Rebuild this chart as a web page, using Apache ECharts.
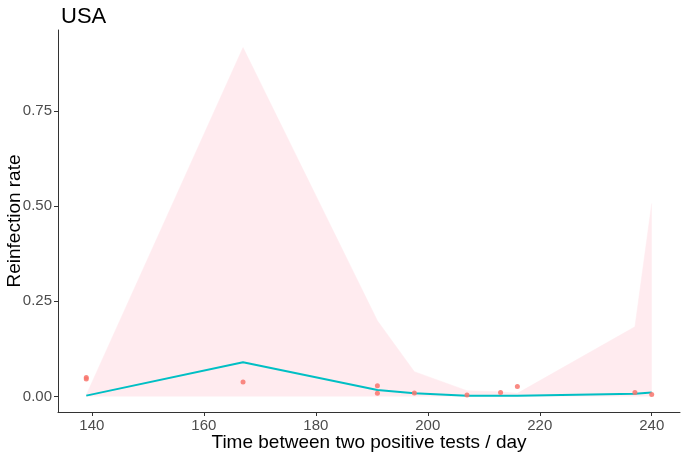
<!DOCTYPE html>
<html>
<head>
<meta charset="utf-8">
<script src="https://cdn.jsdelivr.net/npm/echarts@6/dist/echarts.min.js"></script>
<style>
html,body{margin:0;padding:0;background:#fff;}
#chart{width:685px;height:456px;}
</style>
</head>
<body>
<div id="chart"></div>
<script>
// Observed points (time between tests, reinfection rate)
const pointDays  = [139, 139, 167, 191, 191, 197.6, 207, 213, 216, 237, 240];
const pointRates = [0.050, 0.046, 0.038, 0.028, 0.008, 0.009, 0.004, 0.010, 0.026, 0.010, 0.005];

// Fitted line and confidence band
const fitDays  = [139, 167, 191, 197.6, 207, 213, 216, 237, 240];
const fitRates = [0.002, 0.090, 0.017, 0.008, 0.002, 0.002, 0.002, 0.007, 0.010];
const ciLower  = [0, 0, 0, 0, 0, 0, 0, 0, 0];
const ciUpper  = [0.004, 0.917, 0.199, 0.065, 0.015, 0.012, 0.008, 0.183, 0.507];

const xTicks = [140, 160, 180, 200, 220, 240];
const yTicks = [0, 0.25, 0.5, 0.75];

const font = 'Liberation Sans, Arial, Helvetica, sans-serif';

const chart = echarts.init(document.getElementById('chart'), null, {renderer: 'canvas'});
chart.setOption({
  animation: false,
  backgroundColor: '#ffffff',
  title: {
    text: 'USA',
    left: 56,
    top: 1,
    textStyle: {fontFamily: font, fontSize: 22, fontWeight: 'normal', color: '#000'}
  },
  grid: {left: 58, right: 5, top: 30, bottom: 44, containLabel: false, outerBoundsMode: 'none'},
  xAxis: {
    type: 'value',
    min: 133.95,
    max: 245.05,
    name: 'Time between two positive tests / day',
    nameLocation: 'middle',
    nameGap: 21,
    nameMoveOverlap: false,
    nameTextStyle: {fontFamily: font, fontSize: 19, color: '#000'},
    axisLine: {show: true, onZero: false, lineStyle: {color: '#333', width: 1}},
    axisTick: {show: true, length: 4, lineStyle: {color: '#333'}, customValues: xTicks},
    axisLabel: {
      customValues: xTicks,
      margin: 6,
      fontFamily: font, fontSize: 15, color: '#4D4D4D'
    },
    splitLine: {show: false}
  },
  yAxis: {
    type: 'value',
    min: -0.041,
    max: 0.963,
    name: 'Reinfection rate',
    nameLocation: 'middle',
    nameGap: 34,
    nameMoveOverlap: false,
    nameTextStyle: {fontFamily: font, fontSize: 19, color: '#000'},
    axisLine: {show: true, onZero: false, lineStyle: {color: '#333', width: 1}},
    axisTick: {show: true, length: 4, lineStyle: {color: '#333'}, customValues: yTicks},
    axisLabel: {
      customValues: yTicks,
      margin: 6,
      formatter: v => v.toFixed(2),
      fontFamily: font, fontSize: 15, color: '#4D4D4D'
    },
    splitLine: {show: false}
  },
  series: [
    {
      type: 'line',
      name: 'band',
      data: fitDays.map((d, i) => [d, ciUpper[i]]),
      symbol: 'none',
      lineStyle: {color: '#FFEBEF', width: 0.5},
      areaStyle: {color: '#FFEBEF', opacity: 1, origin: Math.min(...ciLower)},
      silent: true,
      z: 1
    },
    {
      type: 'line',
      name: 'fit',
      data: fitDays.map((d, i) => [d, fitRates[i]]),
      symbol: 'none',
      lineStyle: {color: '#00BFC4', width: 2},
      z: 3
    },
    {
      type: 'scatter',
      name: 'obs',
      data: pointDays.map((d, i) => [d, pointRates[i]]),
      symbol: 'circle',
      symbolSize: 5,
      itemStyle: {color: '#F8766D', opacity: 0.85},
      z: 4
    }
  ]
});
</script>
</body>
</html>
